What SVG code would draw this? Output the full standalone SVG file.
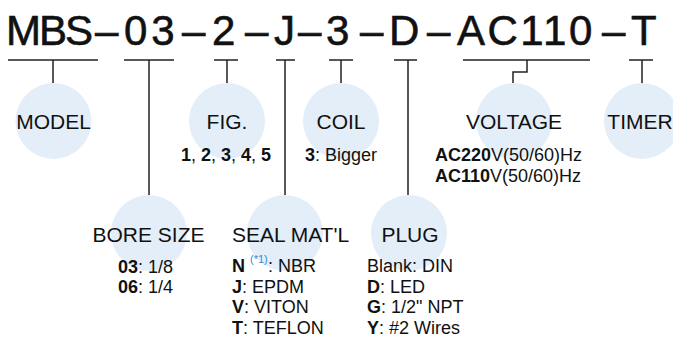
<svg xmlns="http://www.w3.org/2000/svg" width="673" height="338" viewBox="0 0 673 338">
<style>
  text { font-family: "Liberation Sans", Arial, sans-serif; fill: #111; }
  .code { font-size: 42px; stroke: #111; stroke-width: 0.6; }
  .lbl { font-size: 21px; text-anchor: middle; }
  .det { font-size: 18px; }
  .b { font-weight: bold; }
  .sup { font-size: 11px; fill: #2a8fd6; }
  .bub { fill: #e3eef8; }
  .ln { stroke: #222; stroke-width: 1.5; fill: none; }
</style>
<rect width="673" height="338" fill="#ffffff"/>

<g id="code">
  <text class="code" y="45"><tspan x="6" letter-spacing="-2">MBS</tspan><tspan x="95">–</tspan><tspan x="124" letter-spacing="4">03</tspan><tspan x="182">–</tspan><tspan x="212">2</tspan><tspan x="245">–</tspan><tspan x="274">J</tspan><tspan x="298">–</tspan><tspan x="326">3</tspan><tspan x="360">–</tspan><tspan x="389">D</tspan><tspan x="427">–</tspan><tspan x="457" letter-spacing="2.5">AC110</tspan><tspan x="602">–</tspan><tspan x="631">T</tspan></text>
</g>

<g id="connectors" class="ln">
  <path d="M8 60H98M53 60V83"/>
  <path d="M124 60H174M149 60V195"/>
  <path d="M214 60H238M227 60V83"/>
  <path d="M276 60H295M285 60V195"/>
  <path d="M329 60H353M341 60V83"/>
  <path d="M394 60H417M408 60V195"/>
  <path d="M463 60H590M527 60V72H513V83"/>
  <path d="M629 60H653M642 60V83"/>
</g>

<g id="model">
  <circle class="bub" cx="53.5" cy="121" r="38"/>
  <text class="lbl" x="53.5" y="129">MODEL</text>
</g>

<g id="fig">
  <circle class="bub" cx="227" cy="121" r="38"/>
  <text class="lbl" x="227" y="129">FIG.</text>
  <text class="det" x="226" y="161" text-anchor="middle"><tspan class="b">1</tspan>, <tspan class="b">2</tspan>, <tspan class="b">3</tspan>, <tspan class="b">4</tspan>, <tspan class="b">5</tspan></text>
</g>

<g id="coil">
  <circle class="bub" cx="341" cy="121" r="38"/>
  <text class="lbl" x="341" y="129">COIL</text>
  <text class="det" x="305" y="161"><tspan class="b">3</tspan>: Bigger</text>
</g>

<g id="voltage">
  <circle class="bub" cx="514" cy="121" r="38"/>
  <text class="lbl" x="514" y="129">VOLTAGE</text>
  <text class="det" x="435" y="161"><tspan class="b">AC220</tspan>V(50/60)Hz</text>
  <text class="det" x="435" y="182"><tspan class="b">AC110</tspan>V(50/60)Hz</text>
</g>

<g id="timer">
  <circle class="bub" cx="642" cy="121" r="38"/>
  <text class="lbl" x="640" y="129">TIMER</text>
</g>

<g id="bore-size">
  <circle class="bub" cx="149" cy="233" r="38"/>
  <text class="lbl" x="148.5" y="242">BORE SIZE</text>
  <text class="det" x="118" y="273"><tspan class="b">03</tspan>: 1/8</text>
  <text class="det" x="118" y="293"><tspan class="b">06</tspan>: 1/4</text>
</g>

<g id="seal">
  <circle class="bub" cx="285" cy="233" r="38"/>
  <text class="lbl" x="290.5" y="242">SEAL MAT'L</text>
  <text class="det" x="232" y="272"><tspan class="b">N</tspan><tspan class="sup" x="250" y="263">(*1)</tspan><tspan x="268" y="272">: NBR</tspan></text>
  <text class="det" x="232" y="293"><tspan class="b">J</tspan>: EPDM</text>
  <text class="det" x="232" y="313"><tspan class="b">V</tspan>: VITON</text>
  <text class="det" x="232" y="334"><tspan class="b">T</tspan>: TEFLON</text>
</g>

<g id="plug">
  <circle class="bub" cx="409" cy="233" r="38"/>
  <text class="lbl" x="410" y="242">PLUG</text>
  <text class="det" x="367" y="272">Blank: DIN</text>
  <text class="det" x="367" y="293"><tspan class="b">D</tspan>: LED</text>
  <text class="det" x="367" y="313"><tspan class="b">G</tspan>: 1/2" NPT</text>
  <text class="det" x="367" y="334"><tspan class="b">Y</tspan>: #2 Wires</text>
</g>
</svg>
